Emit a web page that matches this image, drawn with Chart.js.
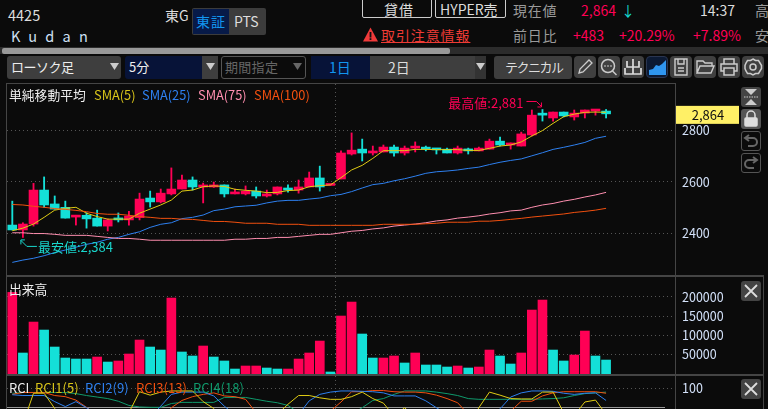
<!DOCTYPE html>
<html lang="ja"><head><meta charset="utf-8"><title>4425 Kudan</title>
<script src="https://cdn.jsdelivr.net/npm/chart.js@4/dist/chart.umd.js"></script>
<style>
html,body{margin:0;padding:0;background:#0b0b0b;width:768px;height:409px;overflow:hidden}
body{position:relative;font-family:"Noto Sans CJK JP","Noto Sans",sans-serif;color:#ddd}
.t{position:absolute;white-space:nowrap;line-height:18px;font-size:14px}
.b{position:absolute;box-sizing:border-box}
canvas{position:absolute;display:block}
.ln{position:absolute;background:#454545}
.ic{position:absolute;box-sizing:border-box;background:#404040;border-radius:4px;width:22px;height:22px}
.ic svg,.side svg{position:absolute;left:0;top:0}
.side{position:absolute;box-sizing:border-box;border-radius:3px;width:20px;height:20px}
</style></head><body>
<script>
const timeSlots=["09:00","09:05","09:10","09:15","09:20","09:25","09:30","09:35","09:40","09:45","09:50","09:55","10:00","10:05","10:10","10:15","10:20","10:25","10:30","10:35","10:40","10:45","10:50","10:55","11:00","11:05","11:10","11:15","11:20","11:25","11:30","12:30","12:35","12:40","12:45","12:50","12:55","13:00","13:05","13:10","13:15","13:20","13:25","13:30","13:35","13:40","13:45","13:50","13:55","14:00","14:05","14:10","14:15","14:20","14:25","14:30","14:35","14:40","14:45","14:50","14:55","15:00","15:05"];
const opens=[2432,2413,2436,2568,2514,2501,2463,2470,2459,2428,2459,2452,2461,2537,2522,2553,2572,2607,2580,2580,2588,2553,2553,2564,2545,2553,2576,2568,2580,2615,2586,2611,2708,2727,2712,2716,2735,2712,2731,2731,2727,2727,2712,2727,2720,2727,2758,2743,2739,2782,2861,2848,2871,2852,2867,2875,2875];
const closes=[2413,2436,2568,2510,2494,2459,2470,2456,2428,2452,2452,2467,2533,2522,2556,2572,2607,2580,2584,2588,2553,2556,2564,2545,2553,2580,2568,2580,2615,2580,2591,2712,2723,2712,2720,2735,2712,2731,2735,2727,2724,2712,2731,2720,2731,2758,2743,2751,2786,2859,2859,2871,2856,2867,2879,2879,2864];
const highs=[2525,2441,2594,2619,2545,2525,2470,2480,2490,2456,2479,2485,2556,2564,2572,2654,2626,2619,2595,2599,2588,2572,2584,2580,2568,2580,2588,2607,2638,2661,2591,2720,2790,2766,2739,2743,2743,2739,2755,2739,2727,2731,2739,2731,2735,2766,2774,2751,2793,2879,2881,2871,2871,2879,2879,2879,2881];
const lows=[2413,2384,2428,2501,2494,2459,2432,2420,2428,2409,2444,2432,2452,2502,2518,2549,2572,2568,2518,2578,2541,2553,2549,2537,2541,2549,2560,2556,2580,2564,2586,2611,2704,2681,2704,2716,2700,2704,2716,2720,2708,2712,2708,2708,2720,2727,2739,2727,2739,2778,2836,2836,2852,2840,2848,2859,2848];
const sma5=[2410,2420,2436,2462,2490,2497,2501,2478,2465,2455,2455,2455,2478,2494,2510,2529,2564,2568,2581,2584,2582,2571,2567,2564,2558,2559,2566,2568,2581,2585,2588,2616,2646,2664,2691,2721,2721,2721,2726,2726,2725,2725,2725,2722,2722,2730,2739,2743,2755,2778,2799,2827,2853,2863,2870,2871,2870];
const sma25=[2287,2296,2303,2313,2325,2335,2346,2357,2365,2377,2384,2396,2406,2423,2435,2441,2457,2462,2471,2488,2494,2503,2506,2509,2518,2525,2528,2528,2533,2537,2546,2551,2562,2576,2589,2594,2604,2612,2622,2633,2639,2642,2646,2652,2657,2667,2676,2683,2689,2701,2713,2726,2734,2743,2753,2769,2777];
const sma75=[2402,2402,2399,2399,2396,2392,2392,2392,2388,2384,2380,2380,2377,2373,2373,2373,2373,2373,2373,2373,2373,2377,2377,2380,2380,2384,2384,2388,2392,2396,2396,2402,2408,2411,2417,2421,2428,2432,2436,2441,2448,2452,2459,2463,2468,2475,2480,2487,2490,2501,2510,2516,2525,2532,2541,2549,2559];
const sma100=[2512,2510,2505,2501,2496,2493,2489,2484,2477,2474,2474,2470,2465,2462,2458,2458,2455,2454,2450,2446,2446,2443,2439,2439,2439,2435,2435,2435,2431,2431,2431,2431,2431,2431,2431,2435,2435,2435,2435,2437,2439,2443,2443,2443,2447,2447,2450,2454,2458,2463,2467,2471,2475,2481,2485,2490,2497];
const volume=[211400,54400,134600,113900,69900,41400,38800,38800,44000,31000,33700,51800,88000,69900,62100,196800,57000,46600,72500,44000,33700,12900,20700,20700,15500,12900,12900,38800,54400,85400,5200,150200,186400,103600,41400,41400,46600,28500,54400,23300,23300,18100,20700,15500,18100,62100,46600,25900,54400,165700,191600,62100,33700,49200,111300,46600,36200];
const volumeUp=[1,0,1,0,0,0,0,0,1,0,1,1,1,0,0,1,0,0,1,0,0,0,1,1,0,0,1,1,1,1,0,1,1,0,0,1,1,0,1,0,0,0,1,0,1,1,0,0,1,1,1,0,0,1,1,0,0];
const rci1=[-20,6,87,87,47,-10,-50,-60,-50,-60,-20,36,91,82,90,93,93,93,65,47,0,-40,-60,-70,-50,32,58,81,81,75,71,71,78,90,73,61,27,49,24,-10,-40,-30,-20,1,49,90,82,73,72,72,90,90,36,29,64,69,32];
const rci2=[83,81,81,81,65,52,65,49,32,0,-30,-30,-10,23,53,84,90,90,90,80,53,31,18,18,14,14,14,31,67,84,90,93,93,92,91,88,80,80,80,67,49,32,0,-40,-40,23,46,77,88,93,93,92,87,84,87,88,68];
const rci3=[84,89,89,89,81,78,69,50,30,10,-10,-30,-30,-20,10,49,68,78,84,88,80,78,71,36,0,-20,-30,-20,0,23,40,64,91,91,94,94,91,90,90,88,82,73,62,32,27,0,-10,40,66,66,80,88,91,91,91,91,87];
const rci4=[87,89,89,89,89,89,86,81,77,73,66,55,51,50,50,60,63,63,63,63,76,76,76,71,66,62,55,36,30,20,20,25,32,49,68,73,84,93,93,93,90,86,81,73,71,71,71,71,71,71,72,73,75,81,86,88,90];
const priceTicks=[2400,2600,2800];
const volumeTicks=[50000,100000,150000,200000];
const rciTicks=[100];
const sessionBreakSlot="12:30";
const highLabel="最高値:2,881", lowLabel="最安値:2,384", lastPriceLabel="2,864";
</script>

<!-- header -->
<div class="t" style="left:8px;top:6px;font-size:14.5px">4425</div>
<div class="t" style="left:11px;top:27px;font-size:14.5px;letter-spacing:8.2px;color:#cfe0f5">Kudan</div>
<div class="t" style="left:165px;top:6px">東G</div>
<div class="b" style="left:192px;top:8px;width:74px;height:27px;background:#3c3c3c;border-radius:2px"></div>
<div class="b" style="left:193px;top:9px;width:36px;height:25px;background:#071a48"></div>
<div class="t" style="left:196px;top:12px;color:#1296f0;letter-spacing:1px">東証</div>
<div class="t" style="left:234px;top:12px;color:#ddd">PTS</div>

<div class="b" style="left:362px;top:-4px;width:70px;height:22px;border:1px solid #ccc;border-radius:2px"></div>
<div class="t" style="left:384px;top:0px;letter-spacing:1px">貸借</div>
<div class="b" style="left:435px;top:-4px;width:71px;height:22px;border:1px solid #ccc;border-radius:2px"></div>
<div class="t" style="left:440px;top:0px">HYPER売</div>
<div class="t" style="left:513px;top:1px;color:#9a9a9a;letter-spacing:.7px">現在値</div>
<div class="t" style="left:581px;top:1px;color:#ff0055">2,864</div>
<div class="t" style="left:621px;top:1px;color:#14d8d0">↓</div>
<div class="t" style="left:700px;top:1px;color:#ddd">14:37</div>
<div class="t" style="left:755px;top:1px;color:#9a9a9a">高</div>

<svg class="b" style="left:362px;top:26px" width="17" height="17"><path d="M8.5 1.5L16 15.5H1z" fill="#f03a3a"/><rect x="7.6" y="6" width="1.8" height="5.5" fill="#111"/><rect x="7.6" y="12.2" width="1.8" height="1.8" fill="#111"/></svg>
<div class="t" style="left:381px;top:26px;color:#ee3b35;letter-spacing:.9px;text-decoration:underline">取引注意情報</div>
<div class="t" style="left:513px;top:26px;color:#9a9a9a;letter-spacing:.7px">前日比</div>
<div class="t" style="left:573px;top:26px;color:#ff0055">+483</div>
<div class="t" style="left:619px;top:26px;color:#ff0055">+20.29%</div>
<div class="t" style="left:693px;top:26px;color:#ff0055">+7.89%</div>
<div class="t" style="left:755px;top:26px;color:#9a9a9a">安</div>

<!-- scrollbar -->
<div class="b" style="left:0;top:47px;width:768px;height:7px;background:#2c2c2c"></div>
<div class="b" style="left:2px;top:48px;width:448px;height:6px;background:#999;border-radius:2px"></div>

<!-- toolbar -->
<div class="b" style="left:7px;top:56px;width:114px;height:23px;background:#3e3e3e;border-radius:3px"></div>
<div class="t" style="left:11px;top:58px;font-size:13px;color:#eee;letter-spacing:-.5px">ローソク足</div>
<svg class="b" style="left:110px;top:63px" width="9" height="8"><path d="M0 0H9L4.5 7z" fill="#ccc"/></svg>
<div class="b" style="left:125px;top:56px;width:77px;height:23px;background:#071338;border-radius:3px 0 0 3px"></div>
<div class="t" style="left:129px;top:58px;font-size:13px;color:#eee">5分</div>
<div class="b" style="left:202px;top:56px;width:16px;height:23px;background:#3e3e3e"></div>
<svg class="b" style="left:206px;top:63px" width="9" height="8"><path d="M0 0H9L4.5 7z" fill="#ccc"/></svg>
<div class="b" style="left:221px;top:56px;width:85px;height:23px;border:1px solid #555;border-radius:3px"></div>
<div class="t" style="left:225px;top:58px;font-size:13px;color:#666;letter-spacing:.3px">期間指定</div>
<svg class="b" style="left:293px;top:63px" width="9" height="8"><path d="M0 0H9L4.5 7z" fill="#666"/></svg>
<div class="b" style="left:311px;top:56px;width:59px;height:23px;background:#071338"></div>
<div class="t" style="left:329px;top:58px;font-size:14px;color:#1296f0">1日</div>
<div class="b" style="left:370px;top:56px;width:105px;height:23px;background:#3e3e3e"></div>
<div class="t" style="left:388px;top:58px;font-size:14px;color:#ddd">2日</div>
<div class="b" style="left:475px;top:56px;width:11px;height:23px;background:#333"></div>
<svg class="b" style="left:476px;top:63px" width="9" height="8"><path d="M0 0H9L4.5 7z" fill="#ccc"/></svg>
<div class="b" style="left:494px;top:56px;width:78px;height:23px;background:#3e3e3e;border-radius:3px"></div>
<div class="t" style="left:505px;top:58px;font-size:13px;letter-spacing:-1.5px;color:#ddd">テクニカル</div>
<div class="ic" style="left:574px;top:56px"><svg width="22" height="22" fill="none" stroke="#ccc" stroke-width="1.3"><path d="M5 17l1-4L15 4l3 3-9 9z"/></svg></div>
<div class="ic" style="left:598px;top:56px"><svg width="22" height="22" fill="none" stroke="#ccc" stroke-width="1.5"><circle cx="10" cy="10" r="6.5"/><path d="M14.5 15l4 4"/><path d="M7 9v2M10 9v2M13 9v2" stroke-width="1"/></svg></div>
<div class="ic" style="left:622px;top:56px"><svg width="22" height="22" fill="none" stroke="#ddd" stroke-width="1.7"><path d="M11 3v15M5 5v6h12V5M3 12v6h16v-6"/></svg></div>
<div class="ic" style="left:646px;top:56px;background:#0c1a34;border:1px solid #2a3550"><svg width="22" height="22"><path d="M2 18V13l4-1 3-4 3 1 3-2 4-4v15z" fill="#2f96f0"/></svg></div>
<div class="ic" style="left:670px;top:56px"><svg width="22" height="22" fill="none" stroke="#ccc" stroke-width="1.4"><path d="M5 3h12v16H5z"/><path d="M8 3v5h6V3M8 12h6M8 15h6"/></svg></div>
<div class="ic" style="left:694px;top:56px"><svg width="22" height="22" fill="none" stroke="#ccc" stroke-width="1.4"><path d="M3 17V5h6l2 2h7v3M3 17l3-7h14l-3 7z"/></svg></div>
<div class="ic" style="left:718px;top:56px"><svg width="22" height="22" fill="none" stroke="#ccc" stroke-width="1.5"><path d="M6 8V3h10v5M6 15H3V8h16v7h-3M6 12h10v7H6z"/></svg></div>
<div class="ic" style="left:742px;top:56px"><svg width="22" height="22" fill="none" stroke="#ccc" stroke-width="1.5"><circle cx="11" cy="11" r="3"/><path d="M11 3l2.500 1.500 3 0 1.500 2.500 1.500 2.500v3l-1.500 2.500-1.500 2.500-3 0L11 19l-2.500-1.500-3 0L4 15l-1-2.500v-3L4 7l1.500-2.500 3 0z"/></svg></div>

<!-- panel frame -->
<div class="ln" style="left:6px;top:83px;width:669px;height:1px"></div>
<div class="ln" style="left:6px;top:83px;width:1px;height:326px"></div>
<div class="ln" style="left:675px;top:83px;width:1px;height:326px"></div>
<div class="ln" style="left:6px;top:275px;width:758px;height:2px"></div>
<div class="ln" style="left:6px;top:374px;width:758px;height:2px"></div>
<div class="ln" style="left:763px;top:275px;width:1px;height:134px"></div>
<div class="b" style="left:7px;top:407px;width:658px;height:1px;background:#999"></div>

<!-- canvases -->
<canvas id="priceChart" style="left:7px;top:84px"></canvas>
<canvas id="volumeChart" style="left:7px;top:277px"></canvas>
<canvas id="rciChart" style="left:7px;top:376px"></canvas>

<!-- indicator legends -->
<div class="t" style="left:9px;top:86px;font-size:12.8px;color:#eee">単純移動平均</div>
<div class="t" style="left:94px;top:86px;font-size:12.8px;color:#d8c41a">SMA(5)</div>
<div class="t" style="left:142px;top:86px;font-size:12.8px;color:#2e80f0">SMA(25)</div>
<div class="t" style="left:198px;top:86px;font-size:12.8px;color:#ff8fb0">SMA(75)</div>
<div class="t" style="left:254px;top:86px;font-size:12.8px;color:#f2500f">SMA(100)</div>
<div class="t" style="left:9px;top:280px;font-size:12.8px;color:#eee">出来高</div>
<div class="t" style="left:9px;top:379px;font-size:13px;color:#eee">RCI</div>
<div class="t" style="left:35px;top:379px;font-size:13px;color:#d8c41a">RCI1(5)</div>
<div class="t" style="left:85px;top:379px;font-size:13px;color:#2e80f0">RCI2(9)</div>
<div class="t" style="left:136px;top:379px;font-size:13px;color:#f2500f">RCI3(13)</div>
<div class="t" style="left:193px;top:379px;font-size:13px;color:#0f9a6c">RCI4(18)</div>

<!-- side buttons -->
<div class="side" style="left:741px;top:87px;background:#444"><svg width="20" height="20" fill="#ccc"><path d="M4 2h12l-6 6zM4 18h12l-6-6z"/><path d="M3 10h14" stroke="#ccc" stroke-dasharray="1.5 1"/></svg></div>
<div class="side" style="left:741px;top:109px;background:#555"><svg width="20" height="20" fill="none" stroke="#ddd" stroke-width="1.5"><path d="M6 9V6a4 4 0 0 1 8 0v3"/><rect x="4" y="9" width="12" height="8" rx="1" fill="#ddd"/></svg></div>
<div class="side" style="left:741px;top:131px;border:1px solid #555"><svg width="18" height="18" fill="none" stroke="#666" stroke-width="2"><path d="M7 3L3 6l4 3M3 6h8a4 4 0 0 1 0 8H6"/></svg></div>
<div class="side" style="left:741px;top:153px;border:1px solid #555"><svg width="18" height="18" fill="none" stroke="#666" stroke-width="2"><path d="M11 3l4 3-4 3M15 6H7a4 4 0 0 0 0 8h5"/></svg></div>
<div class="side" style="left:741px;top:281px;background:#444"><svg width="20" height="20" stroke="#ddd" stroke-width="1.8"><path d="M4 4l12 12M16 4L4 16"/></svg></div>
<div class="side" style="left:741px;top:379px;background:#444"><svg width="20" height="20" stroke="#ddd" stroke-width="1.8"><path d="M4 4l12 12M16 4L4 16"/></svg></div>

<script>
const FONT='"Noto Sans CJK JP","Noto Sans",sans-serif';
const RED='#ff0055',TEAL='#14e0d8',GRID='#555555',TICK='#d4e2fa';
const yAxis=(min,max,values)=>({
  position:'right',min,max,
  afterFit(s){s.width=65;s.paddingTop=0;s.paddingBottom=0;},
  afterBuildTicks(s){s.ticks=values.map(value=>({value}));},
  grid:{color:GRID,lineWidth:1,drawTicks:false},
  border:{display:false,dash:[1,3]},
  ticks:{color:TICK,crossAlign:'near',padding:7,autoSkip:false,font:{family:FONT,size:12.5},callback:v=>String(v)}
});
const xAxis=()=>({
  type:'category',offset:true,
  grid:{offset:true,drawTicks:false,lineWidth:1,color:c=>timeSlots[c.index]===sessionBreakSlot?GRID:'rgba(0,0,0,0)'},
  border:{display:false,dash:[1,3]},
  ticks:{display:false}
});
const base=(x,y)=>({responsive:false,animation:false,devicePixelRatio:1,
  layout:{padding:0},plugins:{legend:{display:false},tooltip:{enabled:false}},
  scales:{x,y}});
function size(id,h){const c=document.getElementById(id);c.width=733;c.height=h;c.style.width='733px';c.style.height=h+'px';return c;}
const line=(data,color,w)=>({type:'line',data,borderColor:color,borderWidth:w||1,pointRadius:0,tension:0,order:0,spanGaps:false});

const annotations={id:'annotations',afterDraw(ch){
  const {ctx,scales:{x,y}}=ch;
  ctx.save();ctx.lineWidth=1;
  // high
  let px=x.getPixelForValue(50),py=y.getPixelForValue(highs[50]);
  ctx.font='13px '+FONT;ctx.textBaseline='middle';ctx.textAlign='right';ctx.fillStyle=RED;ctx.strokeStyle=RED;
  ctx.fillText(highLabel,px-19,py-6);
  ctx.beginPath();ctx.moveTo(px-16,py-8);ctx.lineTo(px-6,py-8);ctx.lineTo(px-1,py-3);ctx.stroke();
  ctx.beginPath();ctx.moveTo(px-1,py-7);ctx.lineTo(px-1,py-2.500);ctx.lineTo(px-5,py-2.500);ctx.stroke();
  // low
  px=x.getPixelForValue(1);py=y.getPixelForValue(lows[1]);
  ctx.textAlign='left';ctx.fillStyle='#19d6cc';ctx.strokeStyle='#19d6cc';
  ctx.fillText(lowLabel,px+15,py+10);
  ctx.beginPath();ctx.moveTo(px+14,py+9);ctx.lineTo(px+4,py+9);ctx.lineTo(px-2,py+3);ctx.stroke();
  ctx.beginPath();ctx.moveTo(px-2,py+7);ctx.lineTo(px-2,py+2.500);ctx.lineTo(px+2,py+2.500);ctx.stroke();
  // last price flag
  const ly=y.getPixelForValue(closes[closes.length-1])+1,rx=ch.chartArea.right+1;
  ctx.fillStyle='#fff066';ctx.fillRect(rx,ly-9,63,18);
  ctx.fillStyle='#111';ctx.textAlign='center';ctx.font='13px '+FONT;ctx.fillText(lastPriceLabel,rx+32,ly+.5);
  ctx.restore();
}};

new Chart(size('priceChart',191),{type:'bar',
  data:{labels:timeSlots,datasets:[
    line(sma100,'#f2500f'),line(sma75,'#ff8fb0'),line(sma25,'#2e80f0'),line(sma5,'#e0cc14'),
    {data:opens.map((o,i)=>[lows[i],highs[i]]),barThickness:1.2,grouped:false,order:2,
     backgroundColor:closes.map((c,i)=>c>=opens[i]?RED:TEAL)},
    {data:opens.map((o,i)=>[o,closes[i]]),barThickness:9,minBarLength:2,grouped:false,order:1,
     backgroundColor:closes.map((c,i)=>c>=opens[i]?RED:TEAL)}
  ]},
  options:base(xAxis(),yAxis(2238,2980,priceTicks)),plugins:[annotations]});

new Chart(size('volumeChart',97),{type:'bar',
  data:{labels:timeSlots,datasets:[{data:volume,barThickness:9,
    backgroundColor:volumeUp.map(u=>u?RED:TEAL)}]},
  options:base(xAxis(),yAxis(0,251300,volumeTicks))});

new Chart(size('rciChart',33),{type:'line',
  data:{labels:timeSlots,datasets:[
    line(rci1,'#e0cc14',1),line(rci2,'#2e80f0',1),line(rci3,'#f2500f',1),line(rci4,'#0f9a6c',1)]},
  options:base(xAxis(),yAxis(45.6,132.3,rciTicks))});
</script>
</body></html>
